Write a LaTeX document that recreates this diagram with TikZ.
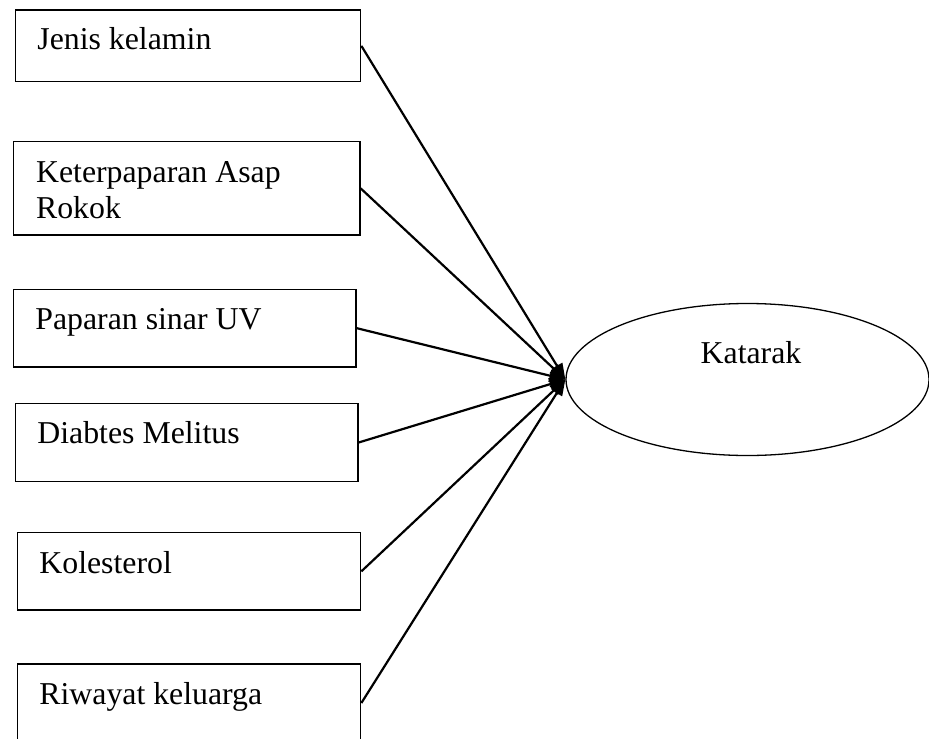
\documentclass[tikz,border=0pt]{standalone}
\usepackage{fontspec}
\setmainfont{Liberation Serif}
\usetikzlibrary{shapes.geometric,arrows.meta}
\begin{document}
\begin{tikzpicture}[x=0.5pt,y=-0.5pt,
  every node/.style={font=\fontsize{15.9}{18}\selectfont},
  factorbox/.style={draw=black,line width=0.65pt,rectangle,inner sep=0pt},
  boxtext/.style={anchor=base west,inner sep=0pt,align=left},
  link/.style={line width=1.1pt,-{Triangle[length=8pt,width=6pt]}}]
\clip (0,0) rectangle (929,738);
\fill[white] (0,0) rectangle (929,738);
% boxes
\node[factorbox,minimum width=172.5pt,minimum height=35.85pt] (b1) at (188.2,45.85) {};
\node[factorbox,minimum width=173.35pt,minimum height=46.65pt] (b2) at (186.65,188.35) {};
\node[factorbox,minimum width=171.35pt,minimum height=38.85pt] (b3) at (184.65,328.15) {};
\node[factorbox,minimum width=171.15pt,minimum height=39.2pt] (b4) at (186.85,442.5) {};
\node[factorbox,minimum width=171.5pt,minimum height=38.65pt] (b5) at (189.2,571.35) {};
\node[factorbox,minimum width=171.5pt,minimum height=39pt] (b6) at (189.2,703) {};
% texts
\node[boxtext] (t1) at (37,50) {Jenis kelamin};
\node[boxtext] (t2) at (35.7,182) {Keterpaparan Asap};
\node[boxtext] (t2b) at (35.7,218) {Rokok};
\node[boxtext] (t3) at (35,329) {Paparan sinar UV};
\node[boxtext] (t4) at (37,443) {Diabtes Melitus};
\node[boxtext] (t5) at (39,573) {Kolesterol};
\node[boxtext] (t6) at (39,704) {Riwayat keluarga};
% ellipse
\node[draw=black,line width=0.65pt,ellipse,minimum width=181.5pt,minimum height=76pt,inner sep=0pt] (kat) at (747.5,379.5) {};
\node[anchor=base,inner sep=0pt] (katlbl) at (751,363) {Katarak};
% connectors
\foreach \b in {b1,b2,b3,b4,b5,b6}{
  \draw[link] (\b.east) -- (kat.west);
}
\end{tikzpicture}
\end{document}
